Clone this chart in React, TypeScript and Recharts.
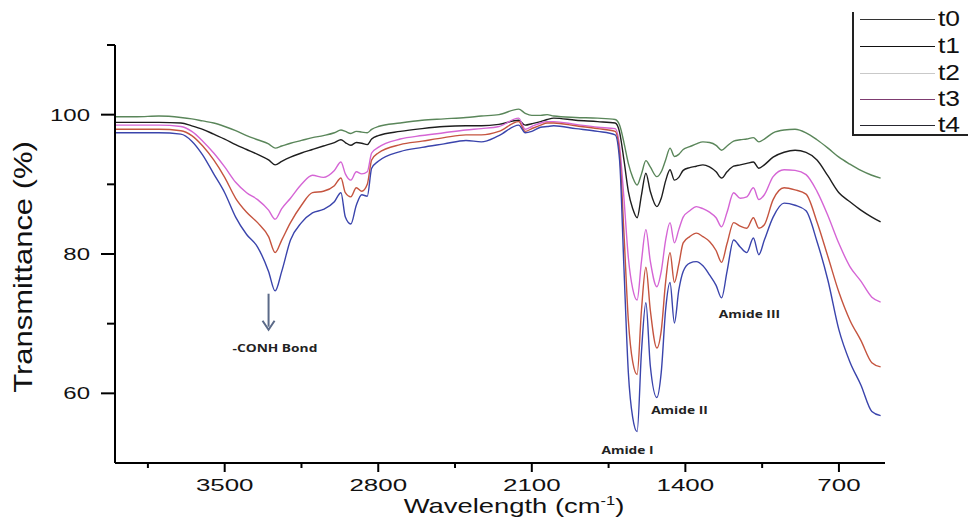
import React from "react";
import { LineChart, Line, XAxis, YAxis, Legend, ReferenceDot } from "recharts";

// wavenumber (cm-1), descending
const wavenumbers = [
  4000, 3900, 3800, 3700, 3650, 3600, 3550, 3500, 3450, 3400,
  3350, 3300, 3270, 3240, 3200, 3150, 3100, 3050, 3000, 2970,
  2950, 2925, 2900, 2875, 2850, 2830, 2800, 2700, 2600, 2500,
  2400, 2330, 2250, 2160, 2130, 2100, 2060, 2030, 2000, 1900,
  1800, 1720, 1700, 1680, 1660, 1640, 1620, 1600, 1580, 1560,
  1530, 1510, 1490, 1470, 1450, 1430, 1410, 1380, 1350, 1320,
  1290, 1260, 1235, 1210, 1180, 1150, 1120, 1090, 1065, 1040,
  1000, 950, 900, 850, 800, 750, 700, 650, 600, 550,
  510,
];

const t0 = [
  99.7, 99.7, 99.8, 99.6, 99.4, 99.1, 98.8, 98.3, 97.7, 97.0,
  96.4, 95.8, 95.2, 95.5, 95.9, 96.3, 96.7, 97.0, 97.4, 97.8,
  97.6, 97.3, 97.6, 97.5, 97.4, 97.9, 98.3, 98.8, 99.2, 99.4,
  99.6, 99.8, 100.0, 100.8, 100.2, 99.9, 99.9, 100.0, 99.8, 99.6,
  99.5, 99.3, 98.5, 96.0, 93.0, 91.0, 89.9, 91.5, 93.4, 92.5,
  91.1, 91.8, 93.5, 95.2, 94.0, 94.3, 95.0, 95.4, 95.8, 96.1,
  96.0, 95.6, 94.9, 95.5, 96.2, 96.4, 96.5, 96.7, 96.1, 96.5,
  97.4, 97.8, 97.9, 97.4, 96.4, 95.2, 93.9, 92.9, 92.0, 91.3,
  90.9,
];

const t1 = [
  98.9, 98.9, 98.9, 98.8, 98.4, 97.9, 97.2, 96.5, 95.7, 95.0,
  94.3, 93.5, 92.8, 93.3, 93.9, 94.5, 95.0, 95.5, 96.0, 96.4,
  96.0, 95.6, 96.0, 95.9, 95.7, 96.5, 97.0, 97.6, 98.0, 98.3,
  98.4, 98.4, 98.6, 99.2, 98.5, 98.7, 99.0, 99.3, 99.5, 99.2,
  99.0, 98.8, 97.5, 93.5, 89.0, 86.5, 85.2, 88.5, 91.6, 89.0,
  86.8, 88.0, 90.5, 92.1, 90.6, 91.0, 92.0, 92.4, 92.6, 92.8,
  92.5, 91.8, 90.9, 91.8, 92.6, 92.8, 93.0, 93.2, 92.3, 92.8,
  93.9, 94.6, 94.9, 94.6, 93.5, 91.2, 88.8, 87.5, 86.3, 85.3,
  84.6,
];

const t2 = [
  98.5, 98.5, 98.5, 98.3, 97.6, 96.2, 94.5, 92.5, 90.3, 88.8,
  87.8, 86.3, 85.0, 86.5, 88.0, 90.0, 91.3, 91.0, 92.0, 93.2,
  91.5, 90.6, 91.8, 91.5, 91.8, 94.5, 95.3, 96.5, 97.0, 97.4,
  97.8, 98.0, 98.3, 99.5, 97.9, 98.3, 98.8, 99.0, 99.0, 98.6,
  98.2, 98.0, 95.5, 88.0, 79.5, 75.0, 73.4, 79.0, 83.5, 79.0,
  75.3, 77.5, 82.0, 84.5, 81.6, 83.5, 85.3, 86.2, 86.8, 86.5,
  86.0, 85.2, 83.9, 86.0, 88.8, 88.0, 88.2, 89.5, 87.8, 88.5,
  91.1, 92.1, 92.0, 91.4, 89.0, 85.5, 81.5, 78.2, 76.1, 73.8,
  73.1,
];

const t3 = [
  97.9, 97.9, 97.9, 97.7, 97.0, 95.5, 93.5, 91.0, 88.0, 86.0,
  84.5, 82.5, 80.2, 82.0, 84.5, 87.0, 88.8, 89.0, 89.8, 90.9,
  88.8, 88.2, 89.5, 89.0, 90.0, 93.5, 94.5, 95.7, 96.2, 96.7,
  97.1, 97.1, 97.6, 99.0, 97.6, 98.0, 98.5, 98.8, 98.8, 98.4,
  98.0, 97.6, 94.5, 83.0, 70.5, 64.5, 62.7, 72.0, 78.1, 72.0,
  66.5, 69.0, 76.0, 80.2, 75.9, 78.5, 81.6, 82.5, 83.0, 82.5,
  81.8, 80.5, 78.8, 81.5, 84.5, 84.0, 83.7, 85.2, 83.7, 84.2,
  87.8, 89.5, 89.2, 88.6, 84.6, 79.6, 74.5, 70.5, 67.6, 64.4,
  63.8,
];

const t4 = [
  97.4, 97.4, 97.4, 97.2, 96.2, 94.2, 91.5, 88.8, 85.3, 82.8,
  81.0, 77.5, 74.7, 77.5, 82.0, 84.5, 85.9, 86.4, 87.5, 88.8,
  85.3, 84.3, 87.0, 88.5, 88.3, 92.3, 93.3, 94.7, 95.3, 95.8,
  96.3, 96.1, 97.0, 98.5, 97.4, 97.6, 98.2, 98.3, 98.4, 98.0,
  97.6, 97.1, 93.5, 78.0, 63.0, 56.5, 54.5, 66.0, 73.0, 64.0,
  59.4, 63.0, 72.0, 75.9, 70.1, 74.8, 77.5, 78.7, 78.9, 78.3,
  77.0, 75.5, 73.7, 77.5, 82.0, 81.0, 80.2, 82.3, 79.9, 82.0,
  85.3, 87.3, 87.0, 86.2, 81.8, 76.2, 69.1, 64.5, 61.2, 57.4,
  56.8,
];

const seriesNames = ["t0", "t1", "t2", "t3", "t4"];
const seriesValues = [t0, t1, t2, t3, t4];
const lineColors = ["#5a865a", "#1e1e1e", "#d565d5", "#c5543f", "#3a44ac"];
const legendColors = ["#333333", "#111111", "#c9c9c9", "#7d3b70", "#26262f"];

const xTicks = [3850, 3500, 3150, 2800, 2450, 2100, 1750, 1400, 1050, 700];
const xMajorTicks = [3500, 2800, 2100, 1400, 700];
const yTicks = [60, 70, 80, 90, 100, 110];
const yMajorTicks = [60, 80, 100];

const annotations = [
  { text: "-CONH Bond", w: 3271, v: 66.5 },
  { text: "Amide I", w: 1664, v: 51.9 },
  { text: "Amide II", w: 1427, v: 57.6 },
  { text: "Amide III", w: 1108, v: 71.4 },
];
const arrowAt = { w: 3300, v: 74.3 };

const data = wavenumbers.map((w, i) => {
  const row: Record<string, number> = { w };
  seriesNames.forEach((name, k) => {
    row[name] = seriesValues[k][i];
  });
  return row;
});

const FONT = "'Liberation Sans', Arial, sans-serif";

// the source figure's lettering is wide, so labels get a horizontal stretch
const XTick = ({ x, y, payload }: any) => {
  const major = xMajorTicks.includes(payload.value);
  return (
    <g>
      <line x1={x} x2={x} y1={y} y2={y + (major ? 9 : 5)} stroke="#000" strokeWidth={2} />
      {major && (
        <text transform={`translate(${x},${y + 28}) scale(1.62,1)`} textAnchor="middle" fontSize={16} fill="#111" fontFamily={FONT}>
          {payload.value}
        </text>
      )}
    </g>
  );
};

const YTick = ({ x, y, payload }: any) => {
  const major = yMajorTicks.includes(payload.value);
  return (
    <g>
      <line x1={x - (major ? 14 : 8)} x2={x} y1={y} y2={y} stroke="#000" strokeWidth={2} />
      {major && (
        <text transform={`translate(${x - 25},${y + 6}) scale(1.5,1)`} textAnchor="end" fontSize={16} fill="#111" fontFamily={FONT}>
          {payload.value}
        </text>
      )}
    </g>
  );
};

const XTitle = () => (
  <text transform="translate(514,513) scale(1.37,1)" textAnchor="middle" fontSize={20} fill="#111" fontFamily={FONT}>
    Wavelength (cm
    <tspan dy={-8} fontSize={12}>-1</tspan>
    <tspan dy={8}>)</tspan>
  </text>
);

const YTitle = () => (
  <text transform="translate(32,267) rotate(-90) scale(1.19,1)" textAnchor="middle" fontSize={26} fill="#111" fontFamily={FONT}>
    Transmittance (%)
  </text>
);

const legendRowCenters = [7, 34, 61, 87, 113];

const LegendBox = () => (
  <div style={{ position: "relative", borderLeft: "2px solid #222", borderBottom: "2px solid #222", height: 122, width: 116, fontFamily: FONT }}>
    {seriesNames.map((name, k) => (
      <div key={name} style={{ position: "absolute", left: 6, top: legendRowCenters[k] - 13, height: 26, display: "flex", alignItems: "center" }}>
        <div style={{ width: 75, height: 0, borderTop: `1.5px solid ${legendColors[k]}` }} />
        <span style={{ marginLeft: 3, fontSize: 22, color: "#111", display: "inline-block", transform: "scale(1.2,1)", transformOrigin: "left center" }}>
          {name}
        </span>
      </div>
    ))}
  </div>
);

export default function App() {
  return (
    <div style={{ position: "relative", width: 968, height: 525, background: "#fff", overflow: "hidden" }}>
      <style>{"body{margin:0}"}</style>
      <LineChart width={968} height={525} data={data} margin={{ top: 45, right: 83, bottom: 0, left: 0 }}>
        <XAxis
          dataKey="w"
          type="number"
          domain={[490, 4000]}
          reversed
          allowDataOverflow
          ticks={xTicks}
          interval={0}
          height={62}
          tickSize={0}
          tickMargin={0}
          tickLine={false}
          tick={<XTick />}
          axisLine={{ stroke: "#000", strokeWidth: 2 }}
          label={{ content: <XTitle /> }}
        />
        <YAxis
          type="number"
          domain={[50, 110]}
          allowDataOverflow
          ticks={yTicks}
          interval={0}
          width={115}
          tickSize={0}
          tickMargin={0}
          tickLine={false}
          tick={<YTick />}
          axisLine={{ stroke: "#000", strokeWidth: 2 }}
          label={{ content: <YTitle /> }}
        />
        <Legend
          layout="vertical"
          align="center"
          verticalAlign="middle"
          content={<LegendBox />}
          wrapperStyle={{ position: "absolute", left: 852, top: 12, width: 118, height: 124 }}
        />
        {seriesNames.map((name, k) => (
          <Line
            key={name}
            dataKey={name}
            type="monotone"
            stroke={lineColors[k]}
            strokeWidth={1.4}
            dot={false}
            isAnimationActive={false}
          />
        ))}
        <ReferenceDot
          x={arrowAt.w}
          y={arrowAt.v}
          r={0}
          ifOverflow="visible"
          shape={(p: any) => (
            <g>
              <line x1={p.cx} x2={p.cx} y1={p.cy} y2={p.cy + 33} stroke="#5b6a88" strokeWidth={2} />
              <path d={`M${p.cx - 6},${p.cy + 27} L${p.cx},${p.cy + 36} L${p.cx + 6},${p.cy + 27}`} fill="none" stroke="#5b6a88" strokeWidth={2} />
            </g>
          )}
        />
        {annotations.map((a) => (
          <ReferenceDot
            key={a.text}
            x={a.w}
            y={a.v}
            r={0}
            ifOverflow="visible"
            shape={(p: any) => (
              <text transform={`translate(${p.cx},${p.cy + 4}) scale(1.25,1)`} textAnchor="middle" fontSize={11} fontWeight="bold" fill="#222" fontFamily="'Open Sans', sans-serif">
                {a.text}
              </text>
            )}
          />
        ))}
      </LineChart>
    </div>
  );
}
